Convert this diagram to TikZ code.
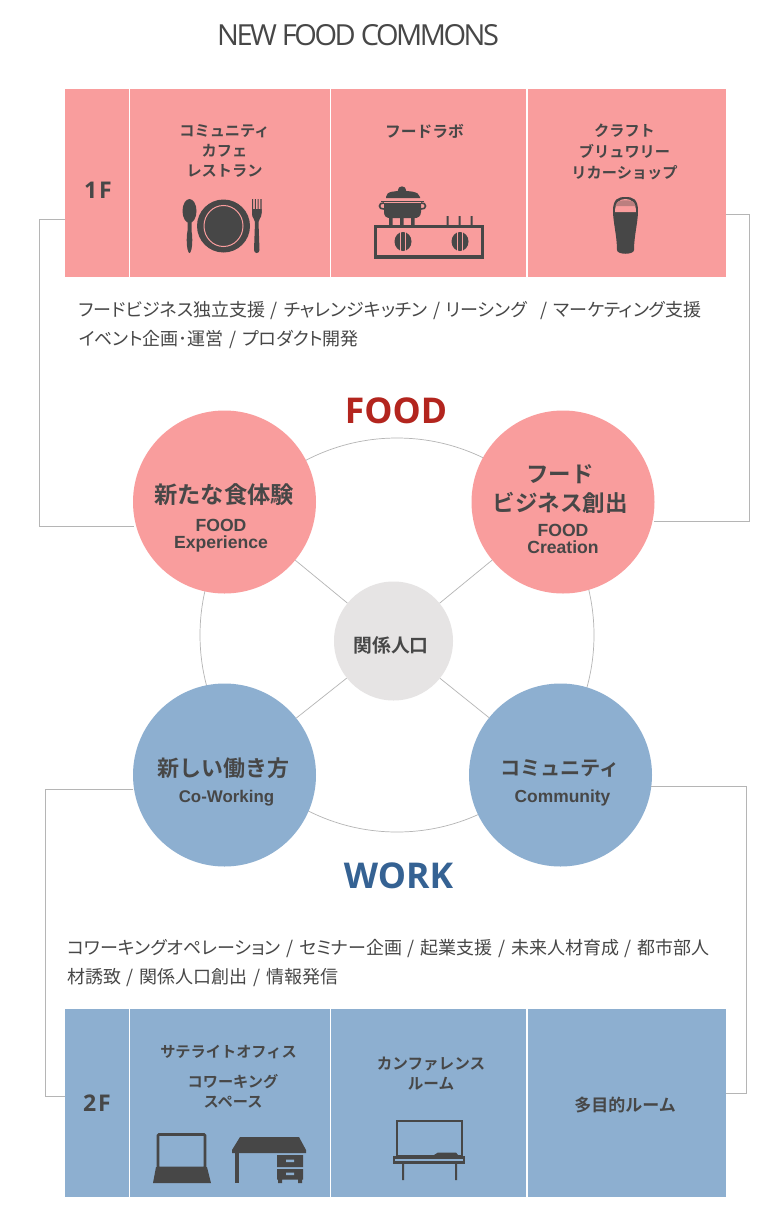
\documentclass[tikz,border=0pt]{standalone}
\usepackage{fontspec}
\setmainfont{Noto Sans CJK JP}
\newfontfamily\jpb{Noto Sans CJK JP Bold}
\newfontfamily\jpr[RawFeature=+palt]{Noto Sans CJK JP}
\newfontfamily\ttl[LetterSpace=-8.6]{Open Sans}
\newfontfamily\lat{Liberation Sans Bold}
\newfontfamily\ops{Open Sans Bold}
\newfontfamily\flr[LetterSpace=8]{Open Sans Bold}
\definecolor{pinkc}{HTML}{F99D9D}
\definecolor{bluec}{HTML}{8DAFD0}
\definecolor{greyc}{HTML}{E6E4E4}
\definecolor{ink}{HTML}{474747}
\definecolor{linec}{HTML}{B5B5B5}
\definecolor{redt}{HTML}{B3251E}
\definecolor{bluet}{HTML}{356293}
\newcommand{\slA}{\hspace{5.7pt}/\hspace{5.7pt}}
\tikzset{
 x=1pt,y=-1pt,
 conn/.style={draw=linec,line width=0.7pt},
 roomp/.style={fill=pinkc,draw=none,rectangle,minimum height=188pt,inner sep=0},
 roomb/.style={fill=bluec,draw=none,rectangle,minimum height=188pt,inner sep=0},
 blob/.style={circle,draw=none,inner sep=0,minimum size=183pt},
 lab/.style={text=ink,font=\jpb\fontsize{15.2}{20}\selectfont,align=center,inner sep=0},
 floorlab/.style={text=ink,font=\flr\fontsize{23}{24}\selectfont,inner sep=0},
 big/.style={text=ink,font=\jpb\fontsize{22.5}{29}\selectfont,align=center,inner sep=0},
 en/.style={text=ink,font=\lat\fontsize{17.6}{17.5}\selectfont,align=center,inner sep=0},
 para/.style={text=ink,inner sep=0,anchor=west,align=left,font=\jpr\fontsize{18}{29.5}\selectfont},
 head/.style={font=\ops\fontsize{35.5}{40}\selectfont,inner sep=0},
 icon/.style={fill=ink,draw=none},
}
\begin{document}
\begin{tikzpicture}
\useasboundingbox (0,0) rectangle (783,1228);
\fill[white] (0,0) rectangle (783,1228);
% ring
\node[circle,draw=linec,line width=0.7pt,minimum size=394pt,inner sep=0] (ring) at (397,635) {};
% rooms
\node[roomp,minimum width=64pt] (a0) at (97,183) {};
\node[roomp,minimum width=200pt] (a1) at (230,183) {};
\node[roomp,minimum width=195pt] (a2) at (428.5,183) {};
\node[roomp,minimum width=198pt] (a3) at (627,183) {};
\node[roomb,minimum width=64pt] (b0) at (97,1103) {};
\node[roomb,minimum width=200pt] (b1) at (230,1103) {};
\node[roomb,minimum width=195pt] (b2) at (428.5,1103) {};
\node[roomb,minimum width=198pt] (b3) at (627,1103) {};
% circles
\node[blob,fill=pinkc] (c1) at (224.5,502) {};
\node[blob,fill=pinkc] (c2) at (563,502) {};
\node[blob,fill=bluec] (c3) at (224.5,775) {};
\node[blob,fill=bluec] (c4) at (560.5,775) {};
\node[circle,fill=greyc,inner sep=0,minimum size=119pt] (c0) at (393.5,641) {};
% spokes
\draw[conn] (c0) -- (c1);
\draw[conn] (c0) -- (c2);
\draw[conn] (c0) -- (c3);
\draw[conn] (c0) -- (c4);
% elbows
\coordinate (p1) at (65,219); \coordinate (p2) at (134,526);
\draw[conn] (p1) -- (39,219) -- (39,526) -- (p2);
\coordinate (p3) at (726,214); \coordinate (p4) at (654,521);
\draw[conn] (p3) -- (749,214) -- (749,521) -- (p4);
\coordinate (p5) at (133,789); \coordinate (p6) at (65,1096);
\draw[conn] (p5) -- (45,789) -- (45,1096) -- (p6);
\coordinate (p7) at (651,786); \coordinate (p8) at (726,1093);
\draw[conn] (p7) -- (746,786) -- (746,1093) -- (p8);
% text
\node[inner sep=0,text=ink,font=\ttl\fontsize{29}{30}\selectfont] (title) at (358,35) {NEW FOOD COMMONS};
\node[floorlab] (f1) at (98,190) {1F};
\node[floorlab] (f2) at (97,1103) {2F};
\node[lab] (t1) at (224.5,150.5) {コミュニティ\\カフェ\\レストラン};
\node[lab,font=\jpb\fontsize{15.8}{20}\selectfont] (t2) at (424.5,131) {フードラボ};
\node[lab,font=\jpb\fontsize{15.2}{21}\selectfont] (t3) at (624.5,151.5) {クラフト\\ブリュワリー\\リカーショップ};
\node[lab] (t4) at (228.5,1052) {サテライトオフィス};
\node[lab] (t5) at (233,1091.5) {コワーキング\\スペース};
\node[lab,font=\jpb\fontsize{15.6}{20}\selectfont] (t6) at (431,1073.5) {カンファレンス\\ルーム};
\node[lab,font=\jpb\fontsize{17}{20}\selectfont] (t7) at (625,1105.5) {多目的ルーム};
\node[para] (para1) at (78.5,325) {フードビジネス独立支援\slA チャレンジキッチン\slA リーシング\ \ \slA マーケティング支援\\イベント企画･運営\slA プロダクト開発};
\node[para] (para2) at (67,963) {コワーキングオペレーション\slA セミナー企画\slA 起業支援\slA 未来人材育成\slA 都市部人\\材誘致\slA 関係人口創出\slA 情報発信};
\node[head,text=redt] (food) at (396,411) {FOOD};
\node[head,text=bluet] (work) at (398.5,876) {WORK};
\node[big,font=\jpb\fontsize{23.3}{29}\selectfont] (h1) at (224,494.5) {新たな食体験};
\node[en] (e1) at (221,535.5) {FOOD\\Experience};
\node[big] (h2) at (560,489) {フード\\ビジネス創出};
\node[en] (e2) at (563,539) {FOOD\\Creation};
\node[big,font=\jpb\fontsize{22}{29}\selectfont] (h3) at (223.5,768) {新しい働き方};
\node[en,font=\lat\fontsize{16.9}{18}\selectfont] (e3) at (226.5,798) {Co-Working};
\node[big,font=\jpb\fontsize{20.2}{29}\selectfont] (h4) at (560,768) {コミュニティ};
\node[en,font=\lat\fontsize{17.4}{18}\selectfont] (e4) at (562.5,798) {Community};
\node[lab,font=\jpb\fontsize{18.8}{20}\selectfont] (h0) at (391,645) {関係人口};
% spoon
\fill[icon] (189.5,211) ellipse (7pt and 12pt);
\fill[icon] (187.5,218) rectangle (191.5,240) (189.5,240) ellipse (2.8pt and 13pt);
% plate
\fill[icon] (223.5,226) ellipse (26.5pt and 26.5pt);
\draw[pinkc,line width=1pt] (223.5,226) ellipse (19.5pt and 20.5pt);
% fork
\fill[icon] (252,199) rectangle (253.1,213) (254.8,199) rectangle (255.9,213) (257.6,199) rectangle (258.7,213) (260.4,199) rectangle (261.5,213);
\fill[icon] (252,209) -- (261.5,209) -- (261.5,214) .. controls (261.5,218) and (258.5,219) .. (258.5,222) -- (259.5,250) .. controls (259.5,254) and (254,254) .. (254,250) -- (255,222) .. controls (255,219) and (252,218) .. (252,214) -- cycle;
% pot
\fill[icon] (386,197) .. controls (386,191) and (396,191) .. (402,191) .. controls (408,191) and (419,191) .. (420,197) -- (420,198) -- (386,198) -- cycle;
\fill[icon] (402,190.5) circle (4.2pt);
\draw[ink,line width=1.8pt] (381,201.5) -- (424,201.5);
\fill[icon] (384,203) -- (421,203) -- (421,212) .. controls (421,217) and (417,218) .. (415,218) -- (390,218) .. controls (386,218) and (384,216) .. (384,212) -- cycle;
\draw[ink,line width=1.6pt] (384,203) .. controls (378,202) and (378,210) .. (384,209);
\draw[ink,line width=1.6pt] (421,203) .. controls (427,202) and (427,210) .. (421,209);
\fill[icon] (389,218) rectangle (392.5,225) (400,218) rectangle (403.5,225) (411,218) rectangle (414.5,225);
\fill[icon] (446.5,216) rectangle (448.5,225) (458.5,216) rectangle (460.5,225) (470.5,216) rectangle (472.5,225);
\draw[ink,line width=3.2pt] (375.5,226.5) rectangle (482.5,257);
\fill[icon] (403,241.5) ellipse (8.5pt and 9.5pt);
\draw[pinkc,line width=0.9pt] (400.5,232) -- (400.5,251) (405.5,232) -- (405.5,251);
\fill[icon] (460,241.5) ellipse (8.5pt and 9.5pt);
\draw[pinkc,line width=0.9pt] (457.5,232) -- (457.5,251) (462.5,232) -- (462.5,251);
% beer
\fill[icon] (613,211) .. controls (613,199) and (618,197) .. (625.5,197) .. controls (633,197) and (638,199) .. (638,211) .. controls (638,222) and (634,236) .. (634,250) .. controls (634,255) and (617,255) .. (617,250) .. controls (617,236) and (613,222) .. (613,211) -- cycle;
\fill[pinkc] (615,212) .. controls (615,202) and (620,199) .. (625.5,199) .. controls (631,199) and (636,202) .. (636,212) -- cycle;
\fill[pinkc!65!ink] (617,202.5) .. controls (620,199.5) and (631,199.5) .. (634,202.5) -- (635.5,206) -- (615.5,206) -- cycle;
% laptop
\draw[ink,line width=2.6pt,rounded corners=1pt] (158,1134.5) rectangle (205,1168);
\fill[icon] (156,1167) -- (207,1167) -- (211,1183) -- (153,1183) -- cycle;
% desk
\fill[icon] (240,1137) -- (299,1137) -- (306,1150) -- (306,1153) -- (232,1153) -- (232,1150) -- cycle;
\fill[icon] (235,1153) rectangle (239,1183);
\fill[icon] (277,1155) rectangle (303,1167) (277,1169) rectangle (303,1179.5) (278,1179.5) rectangle (282,1183) (298,1179.5) rectangle (302,1183);
\fill[bluec] (286,1159.5) rectangle (294,1162) (286,1172.5) rectangle (294,1175);
% board
\draw[ink,line width=1.8pt] (397,1121) rectangle (462,1156);
\fill[icon] (393,1156) rectangle (465,1164);
\fill[bluec] (395,1158.5) rectangle (463,1161);
\fill[icon] (434,1155) -- (438,1152.5) -- (456,1152.5) -- (458,1155) -- cycle;
\fill[icon] (402,1164) rectangle (404,1180) (455,1164) rectangle (457,1180);
\end{tikzpicture}
\end{document}
